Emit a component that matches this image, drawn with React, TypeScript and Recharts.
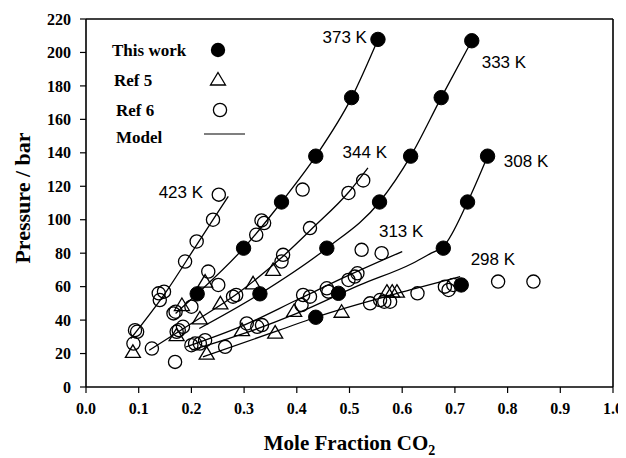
import React from 'react';
import { ScatterChart, Scatter, XAxis, YAxis, ReferenceLine, Legend } from 'recharts';

const SERIF = '"Liberation Serif", "Times New Roman", Times, serif';
const SANS = '"Liberation Sans", Arial, Helvetica, sans-serif';

const xTicks = [0, 0.1, 0.2, 0.3, 0.4, 0.5, 0.6, 0.7, 0.8, 0.9, 1.0];
const yTicks = [0, 20, 40, 60, 80, 100, 120, 140, 160, 180, 200, 220];

// This work (filled circles)
const thisWork: [number, number][] = [
  [0.211, 55.7], [0.299, 83], [0.371, 110.6], [0.436, 138], [0.504, 173], [0.554, 207.8],
  [0.330, 55.7], [0.457, 83], [0.557, 110.6], [0.616, 138], [0.674, 173], [0.732, 207],
  [0.436, 41.7], [0.479, 56], [0.678, 83], [0.724, 110.6], [0.762, 138],
  [0.712, 61],
];

// Ref 5 (open triangles)
const ref5: [number, number][] = [
  [0.089, 21], [0.172, 31], [0.182, 49], [0.216, 41], [0.229, 20], [0.226, 63],
  [0.255, 50], [0.296, 34], [0.317, 62], [0.355, 70], [0.359, 32.5], [0.395, 45.5],
  [0.485, 45], [0.571, 57], [0.581, 57], [0.590, 57],
];

// Ref 6 (open circles)
const ref6: [number, number][] = [
  // 423 K
  [0.090, 26], [0.093, 34], [0.097, 33], [0.138, 56], [0.148, 57], [0.140, 52],
  [0.188, 75], [0.210, 87], [0.241, 100], [0.252, 115],
  // 373 K
  [0.166, 44], [0.170, 45], [0.200, 48], [0.232, 69], [0.251, 61],
  [0.323, 91], [0.333, 99.6], [0.338, 98], [0.411, 118],
  // 344 K
  [0.125, 23], [0.172, 33], [0.176, 34], [0.184, 36], [0.169, 15],
  [0.279, 54], [0.285, 55], [0.371, 75], [0.374, 79], [0.425, 95],
  [0.498, 116], [0.526, 123.5],
  // 313 / 308 / 298 K
  [0.200, 25], [0.207, 26], [0.216, 26], [0.226, 28], [0.264, 24],
  [0.305, 38], [0.325, 36], [0.334, 37],
  [0.409, 49], [0.412, 55], [0.425, 54], [0.457, 59], [0.460, 57],
  [0.498, 64], [0.510, 66], [0.515, 68], [0.523, 82], [0.561, 80],
  [0.539, 50], [0.558, 52], [0.566, 51], [0.577, 51],
  [0.629, 56], [0.681, 60], [0.688, 58], [0.697, 61], [0.782, 63], [0.849, 63],
];

// Model curves
const model423: [number, number][] = [[0.085, 29], [0.15, 56], [0.21, 85], [0.27, 114]];
const model373: [number, number][] = [
  [0.17, 44], [0.211, 55.7], [0.299, 83], [0.371, 110.6], [0.436, 138], [0.504, 173], [0.554, 207.8],
];
const model344: [number, number][] = [
  [0.12, 22], [0.2, 38], [0.29, 56.5], [0.375, 78.5], [0.43, 95], [0.5, 117], [0.535, 131],
];
const model333: [number, number][] = [
  [0.215, 35], [0.33, 55.7], [0.457, 83], [0.557, 110.6], [0.616, 138], [0.674, 173], [0.732, 207],
];
const model313: [number, number][] = [[0.19, 24], [0.3, 37], [0.4, 52], [0.5, 67], [0.6, 81]];
const model308: [number, number][] = [
  [0.2, 22], [0.3, 32], [0.4, 44], [0.52, 61], [0.62, 74], [0.655, 80], [0.678, 84], [0.724, 110.6], [0.762, 138],
];
const model298: [number, number][] = [[0.222, 18], [0.367, 34], [0.436, 41.7], [0.615, 58], [0.71, 66]];

const modelCurves = [model423, model373, model344, model333, model313, model308, model298];

// Isotherm annotations (data coordinates of label centre)
const isoNames = ['423 K', '373 K', '344 K', '333 K', '313 K', '308 K', '298 K'];
const isoX = [0.180, 0.491, 0.529, 0.793, 0.598, 0.835, 0.772];
const isoY = [116, 209, 140, 194, 92.8, 134.7, 76];

const toPts = (arr: [number, number][]) => arr.map(([x, y]) => ({ x, y }));
const isoLabels = isoNames.map((label, i) => ({ x: isoX[i], y: isoY[i], label }));

const FilledDot = (p: any) => <circle cx={p.cx} cy={p.cy} r={7.2} fill="#000" stroke="#000" />;
const OpenDot = (p: any) => <circle cx={p.cx} cy={p.cy} r={6.6} fill="none" stroke="#000" strokeWidth={1.3} />;
const Tri = (p: any) => (
  <path
    d={`M${p.cx},${p.cy - 7} L${p.cx + 7.5},${p.cy + 5.5} L${p.cx - 7.5},${p.cy + 5.5} Z`}
    fill="none"
    stroke="#000"
    strokeWidth={1.3}
  />
);
const NoDot = () => <g />;
const IsoText = (p: any) => (
  <text
    x={p.cx}
    y={p.cy}
    textAnchor="middle"
    dominantBaseline="central"
    fontFamily={SANS}
    fontSize={17}
    fill="#000"
  >
    {p.payload.label}
  </text>
);

const XTitle = (props: any) => {
  const vb = props.viewBox && props.viewBox.width ? props.viewBox : { x: 78, y: 379, width: 527, height: 63 };
  const cx = vb.x + vb.width / 2;
  const y = vb.y + 63;
  return (
    <text x={cx} y={y} textAnchor="middle" fontFamily={SERIF} fontWeight="bold" fontSize={21} fill="#000">
      <tspan>Mole Fraction CO</tspan>
      <tspan dy={5} fontSize={14}>2</tspan>
    </text>
  );
};

const YTitle = () => {
  const x = 14;
  const y = 190;
  return (
    <text
      x={x}
      y={y}
      transform={`rotate(-90 ${x} ${y})`}
      textAnchor="middle"
      dominantBaseline="central"
      fontFamily={SERIF}
      fontWeight="bold"
      fontSize={22}
      fill="#000"
    >
      Pressure / bar
    </text>
  );
};

const legendText = { fontFamily: SERIF, fontWeight: 'bold' as const, fontSize: 17, fill: '#000' };

const LegendBox = () => (
  <svg width={260} height={150} style={{ overflow: 'visible', display: 'block' }}>
    <text x={104} y={42} dominantBaseline="central" {...legendText}>This work</text>
    <circle cx={210} cy={42} r={7.2} fill="#000" />
    <text x={106} y={72} dominantBaseline="central" {...legendText}>Ref 5</text>
    <path d="M210,64.5 L217.5,77 L202.5,77 Z" fill="none" stroke="#000" strokeWidth={1.3} />
    <text x={108} y={102} dominantBaseline="central" {...legendText}>Ref 6</text>
    <circle cx={212} cy={102} r={6.6} fill="none" stroke="#000" strokeWidth={1.3} />
    <text x={108} y={129} dominantBaseline="central" {...legendText}>Model</text>
    <line x1={196} y1={126} x2={237} y2={126} stroke="#000" strokeWidth={1.2} />
  </svg>
);

const tickStyle = { fill: '#000', fontSize: 16, fontWeight: 'bold' as const, fontFamily: SERIF };

export default function App() {
  return (
    <div style={{ width: 618, height: 450 }}>
      <ScatterChart width={618} height={450} margin={{ top: 11, right: 13, bottom: 8, left: 0 }}>
        <XAxis
          type="number"
          dataKey="x"
          domain={[0, 1]}
          ticks={xTicks}
          interval={0}
          tickFormatter={(v: number) => v.toFixed(1)}
          tick={tickStyle}
          tickSize={6}
          tickMargin={10}
          axisLine={{ stroke: '#000', strokeWidth: 1.6 }}
          tickLine={{ stroke: '#000', strokeWidth: 1.2 }}
          height={63}
          allowDataOverflow
          label={<XTitle />}
        />
        <YAxis
          type="number"
          dataKey="y"
          domain={[0, 220]}
          ticks={yTicks}
          interval={0}
          tick={tickStyle}
          tickSize={6}
          tickMargin={9}
          axisLine={{ stroke: '#000', strokeWidth: 1.6 }}
          tickLine={{ stroke: '#000', strokeWidth: 1.2 }}
          width={78}
          allowDataOverflow
          label={<YTitle />}
        />
        <ReferenceLine y={220} stroke="#000" strokeWidth={1.6} />
        <ReferenceLine x={1} stroke="#000" strokeWidth={1.6} />
        {modelCurves.map((c, i) => (
          <Scatter
            key={`m${i}`}
            data={toPts(c)}
            line={{ stroke: '#000', strokeWidth: 1.3 }}
            lineType="joint"
            lineJointType="monotoneX"
            shape={NoDot}
            isAnimationActive={false}
            legendType="none"
          />
        ))}
        <Scatter data={toPts(ref6)} shape={OpenDot} isAnimationActive={false} />
        <Scatter data={toPts(ref5)} shape={Tri} isAnimationActive={false} />
        <Scatter data={toPts(thisWork)} shape={FilledDot} isAnimationActive={false} />
        <Scatter data={isoLabels} shape={IsoText} isAnimationActive={false} />
        <Legend
          layout="horizontal"
          verticalAlign="middle"
          align="center"
          content={() => <LegendBox />}
          wrapperStyle={{ left: 0, top: 0, width: 260, height: 150 }}
        />
      </ScatterChart>
    </div>
  );
}
